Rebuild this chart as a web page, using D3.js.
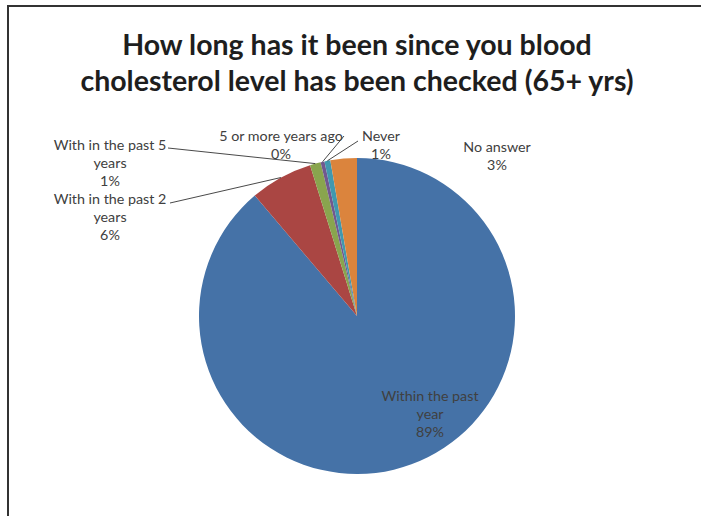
<!DOCTYPE html>
<html>
<head>
<meta charset="utf-8">
<script src="https://cdn.jsdelivr.net/npm/d3@7/dist/d3.min.js"></script>
<style>
  html, body { margin: 0; padding: 0; background: #fff; }
  svg { display: block; }
</style>
</head>
<body>
<svg id="chart" width="701" height="516"></svg>
<script>
// Survey responses (share of respondents, %), in the order drawn clockwise from 12 o'clock
const categories = [
  "Within the past year",
  "With in the past 2 years",
  "With in the past 5 years",
  "5 or more years ago",
  "Never",
  "No answer"
];
const values = [88.8, 6.4, 1.1, 0.4, 0.6, 2.7];
const colors = ["#4572A7", "#AA4643", "#89A54E", "#71588F", "#4198AF", "#DB843D"];
const titleLines = [
  "How long has it been since you blood",
  "cholesterol level has been checked (65+ yrs)"
];

// Label text lines for each slice (name lines + percent)
const labelLines = [
  ["Within the past", "year"],
  ["With in the past 2", "years"],
  ["With in the past 5", "years"],
  ["5 or more years ago"],
  ["Never"],
  ["No answer"]
];

// Label layout: centre x, first baseline y, and where a leader line starts
const labelLayout = [
  { x: 430, y: 401, leader: null },
  { x: 110, y: 204, leader: [170, 203] },
  { x: 110, y: 150, leader: [168, 148] },
  { x: 281, y: 141, leader: [344, 136] },
  { x: 381, y: 141, leader: [358, 141] },
  { x: 497, y: 152, leader: null }
];

const svg = d3.select("#chart");
const W = 701, H = 516;
const cx = 357, cy = 316, r = 158;
const font = "Lato, 'Open Sans', sans-serif";

// Outer frame
svg.append("rect")
  .attr("x", 8).attr("y", 6)
  .attr("width", W + 20).attr("height", H + 20)
  .attr("fill", "none")
  .attr("stroke", "#333")
  .attr("stroke-width", 2);

// Title
svg.append("text")
  .attr("x", 357).attr("text-anchor", "middle")
  .attr("font-family", font).attr("font-weight", "bold")
  .attr("font-size", 28.5).attr("fill", "#1e1e1e")
  .selectAll("tspan").data(titleLines).join("tspan")
  .attr("x", 357)
  .attr("y", (d, i) => 55 + i * 36)
  .text(d => d);

const pie = d3.pie().sort(null).value(d => d);
const arcs = pie(values);
const arc = d3.arc().innerRadius(0).outerRadius(r);
const edge = d3.arc().innerRadius(r).outerRadius(r);

const g = svg.append("g").attr("transform", `translate(${cx},${cy})`);
g.selectAll("path").data(arcs).join("path")
  .attr("d", arc)
  .attr("fill", (d, i) => colors[i]);

const fmt = v => Math.round(v) + "%";

// Leader lines from label to slice edge
arcs.forEach((a, i) => {
  const L = labelLayout[i];
  if (!L.leader) return;
  const [ex, ey] = edge.centroid(a);
  svg.append("line")
    .attr("x1", L.leader[0]).attr("y1", L.leader[1])
    .attr("x2", cx + ex).attr("y2", cy + ey)
    .attr("stroke", "#1a1a1a").attr("stroke-width", 0.8);
});

// Data labels
arcs.forEach((a, i) => {
  const L = labelLayout[i];
  const lines = labelLines[i].concat([fmt(values[i])]);
  const t = svg.append("text")
    .attr("text-anchor", "middle")
    .attr("font-family", font).attr("font-size", 14.3)
    .attr("fill", "#404040");
  t.selectAll("tspan").data(lines).join("tspan")
    .attr("x", L.x)
    .attr("y", (d, k) => L.y + k * 18)
    .text(d => d);
});
</script>
</body>
</html>
